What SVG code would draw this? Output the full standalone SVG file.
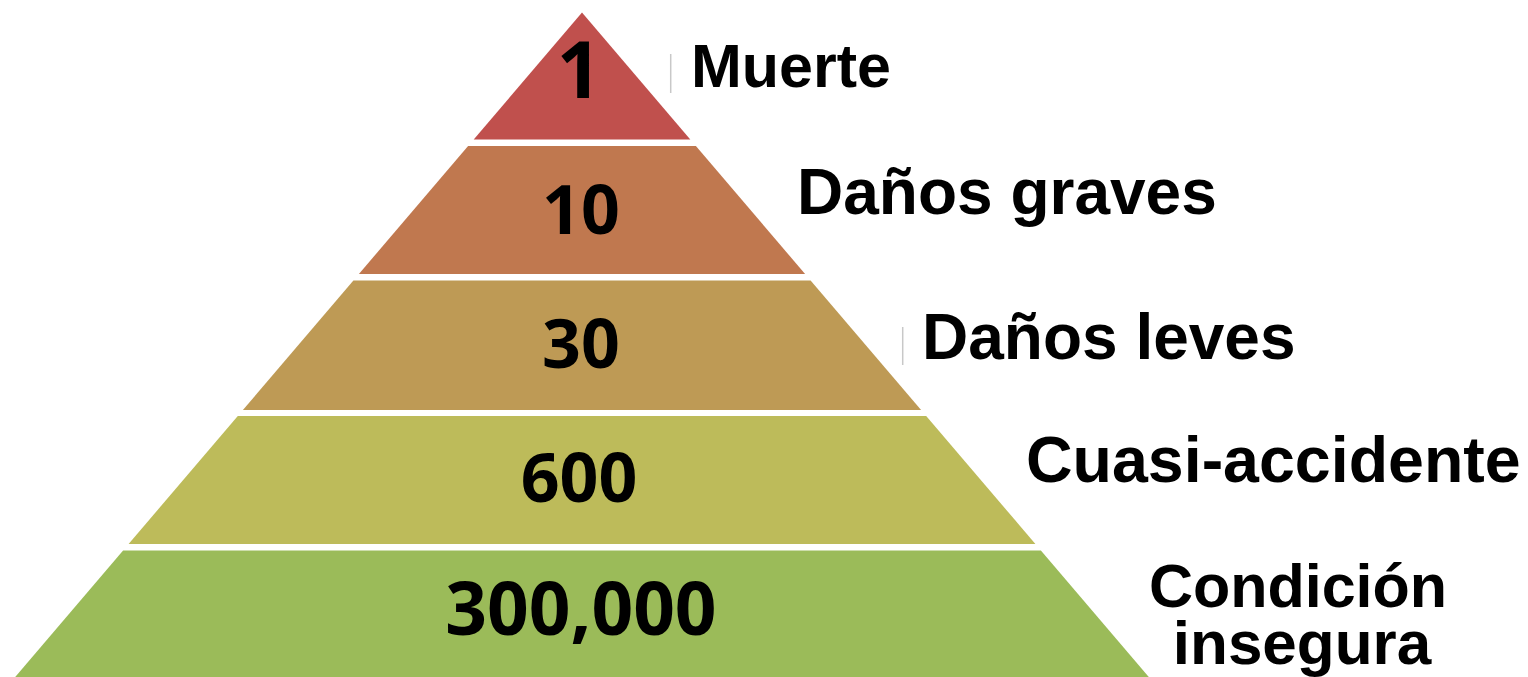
<svg xmlns="http://www.w3.org/2000/svg" width="1528" height="677" viewBox="0 0 1528 677">
<style>
.num{font-family:"Open Sans","Noto Sans",sans-serif;font-weight:700;fill:#000;text-anchor:middle}
.lbl{font-family:"Liberation Sans",Arial,sans-serif;font-weight:700;fill:#000}
.mark{stroke:#c8c8c8;stroke-width:1.5}
</style>
<rect width="1528" height="677" fill="#fff"/>
<g id="level1">
<polygon points="582,12.5 690.3,139.5 473.7,139.5" fill="#C0504D"/>
<text class="num" x="579" y="98" font-size="78">1</text>
</g>
<g id="level2">
<polygon points="468.1,146 695.9,146 805.1,274 358.9,274" fill="#C0784F"/>
<text class="num" x="581" y="234" font-size="68">10</text>
</g>
<g id="level3">
<polygon points="353.4,280.5 810.6,280.5 921.1,410 242.9,410" fill="#BE9A55"/>
<text class="num" x="581" y="368" font-size="68">30</text>
</g>
<g id="level4">
<polygon points="237.8,416 926.2,416 1035.4,544 128.6,544" fill="#BDBB5A"/>
<text class="num" x="579" y="502" font-size="68">600</text>
</g>
<g id="level5">
<polygon points="123.1,550.5 1040.9,550.5 1148.8,677 15.2,677" fill="#9BBB59"/>
<text class="num" x="581" y="635" font-size="73">300,000</text>
</g>
<g id="labels">
<line class="mark" x1="670.7" y1="54" x2="670.7" y2="93"/>
<line class="mark" x1="902.7" y1="327" x2="902.7" y2="365"/>
<text class="lbl" x="691" y="87" font-size="61">Muerte</text>
<text class="lbl" x="797" y="214" font-size="64">Daños graves</text>
<text class="lbl" x="922" y="359" font-size="64">Daños leves</text>
<text class="lbl" x="1026" y="482" font-size="64.5">Cuasi-accidente</text>
<text class="lbl" x="1298" y="607" font-size="61" text-anchor="middle">Condición</text>
<text class="lbl" x="1302" y="664" font-size="62" text-anchor="middle">insegura</text>
</g>
<g id="connectors"/>
</svg>
